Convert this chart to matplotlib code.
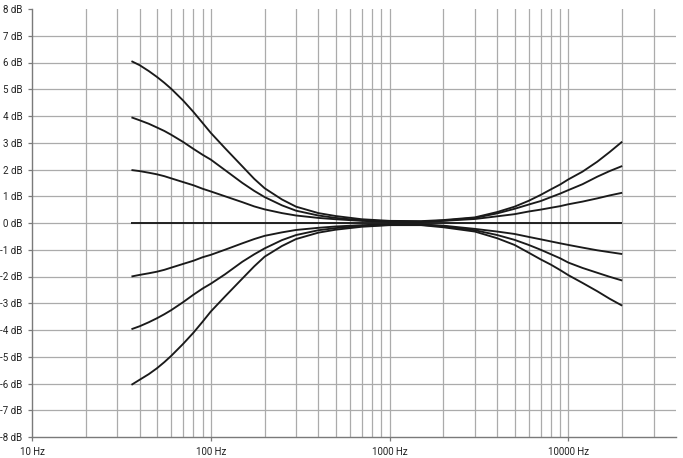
import numpy as np
import matplotlib
matplotlib.use("Agg")
import matplotlib.pyplot as plt

freqs = [36, 40, 45, 50, 55, 60, 70, 80, 90, 100, 120, 150, 175, 200, 250,
         300, 400, 500, 700, 1000, 1500, 2000, 3000, 4000, 5000, 6000, 7000,
         8000, 9000, 10000, 12000, 14500, 17000, 20000]

# bass +6 / treble +3
curve_p6 = [6.05, 5.90, 5.68, 5.46, 5.24, 5.02, 4.58, 4.15, 3.74, 3.37, 2.80,
            2.12, 1.65, 1.30, 0.88, 0.61, 0.37, 0.26, 0.14, 0.08, 0.07, 0.11,
            0.21, 0.41, 0.61, 0.83, 1.05, 1.26, 1.44, 1.63, 1.92, 2.29, 2.65,
            3.04]
# bass +4 / treble +2
curve_p4 = [3.95, 3.84, 3.71, 3.57, 3.44, 3.30, 3.03, 2.77, 2.55, 2.37, 1.98,
            1.50, 1.20, 0.97, 0.66, 0.46, 0.28, 0.19, 0.10, 0.06, 0.05, 0.09,
            0.19, 0.36, 0.53, 0.69, 0.82, 0.97, 1.10, 1.23, 1.45, 1.73, 1.94,
            2.13]
# bass +2 / treble +1
curve_p2 = [1.98, 1.94, 1.88, 1.82, 1.75, 1.67, 1.53, 1.41, 1.28, 1.18, 1.00,
            0.78, 0.62, 0.51, 0.37, 0.28, 0.19, 0.14, 0.08, 0.04, 0.04, 0.08,
            0.15, 0.25, 0.33, 0.43, 0.50, 0.57, 0.63, 0.70, 0.80, 0.92, 1.03,
            1.13]
curve_0 = [0.0] * len(freqs)
# bass -2 / treble -1
curve_m2 = [-2.00, -1.94, -1.88, -1.82, -1.75, -1.67, -1.53, -1.41, -1.28,
            -1.19, -1.00, -0.76, -0.60, -0.48, -0.35, -0.26, -0.18, -0.13,
            -0.08, -0.05, -0.05, -0.10, -0.22, -0.32, -0.41, -0.52, -0.61,
            -0.69, -0.76, -0.82, -0.92, -1.02, -1.09, -1.16]
# bass -4 / treble -2
curve_m4 = [-3.97, -3.86, -3.71, -3.56, -3.41, -3.26, -2.96, -2.68, -2.45,
            -2.27, -1.92, -1.45, -1.17, -0.95, -0.64, -0.45, -0.27, -0.19,
            -0.11, -0.07, -0.07, -0.12, -0.27, -0.45, -0.63, -0.82, -1.00,
            -1.17, -1.32, -1.48, -1.68, -1.86, -2.01, -2.15]
# bass -6 / treble -3
curve_m6 = [-6.05, -5.86, -5.65, -5.43, -5.20, -4.97, -4.52, -4.10, -3.69,
            -3.31, -2.75, -2.08, -1.62, -1.26, -0.86, -0.60, -0.36, -0.25,
            -0.14, -0.08, -0.08, -0.16, -0.32, -0.57, -0.82, -1.11, -1.36,
            -1.56, -1.76, -1.95, -2.24, -2.55, -2.83, -3.09]

y_ticks = list(range(-8, 9))
x_ticks = [10, 100, 1000, 10000]
x_labels = ["10 Hz", "100 Hz", "1000 Hz", "10000 Hz"]

plt.rcParams['font.family'] = ['Roboto', 'DejaVu Sans']

fig = plt.figure(figsize=(6.83, 4.58), dpi=100)
ax = fig.add_axes([32 / 683, 21 / 458, 644 / 683, 428 / 458])

grid_col = "#ababab"
# vertical grid: every 1-9 step of each decade
for dec in [10, 100, 1000, 10000]:
    for m in range(1, 10):
        f = dec * m
        if f <= 10 or f >= 40000:
            continue
        ax.axvline(f, color=grid_col, lw=0.9, zorder=1)
# horizontal grid (not at the edges)
for d in y_ticks[1:-1]:
    ax.axhline(d, color=grid_col, lw=0.9, zorder=1)

for c in [curve_p6, curve_p4, curve_p2, curve_0, curve_m2, curve_m4, curve_m6]:
    ax.plot(freqs, c, color="#1a1a1a", lw=1.35, zorder=3,
            solid_capstyle="butt", solid_joinstyle="round")

ax.set_xscale("log")
ax.set_xlim(10, 40000)
ax.set_ylim(-8, 8)
ax.set_xticks(x_ticks)
ax.set_xticklabels(x_labels)
ax.xaxis.set_minor_locator(matplotlib.ticker.NullLocator())
ax.set_yticks(y_ticks)
ax.set_yticklabels([f"{d} dB" for d in y_ticks])

for s in ["top", "right"]:
    ax.spines[s].set_visible(False)
for s in ["left", "bottom"]:
    ax.spines[s].set_color("#7a7a7a")
    ax.spines[s].set_linewidth(1.0)

ax.tick_params(axis="both", length=3, width=0.9, color="#7a7a7a",
               labelsize=7, labelcolor="#222222")
ax.tick_params(axis="x", pad=4)
ax.tick_params(axis="y", pad=4)

fig.savefig("out.png", dpi=100)
